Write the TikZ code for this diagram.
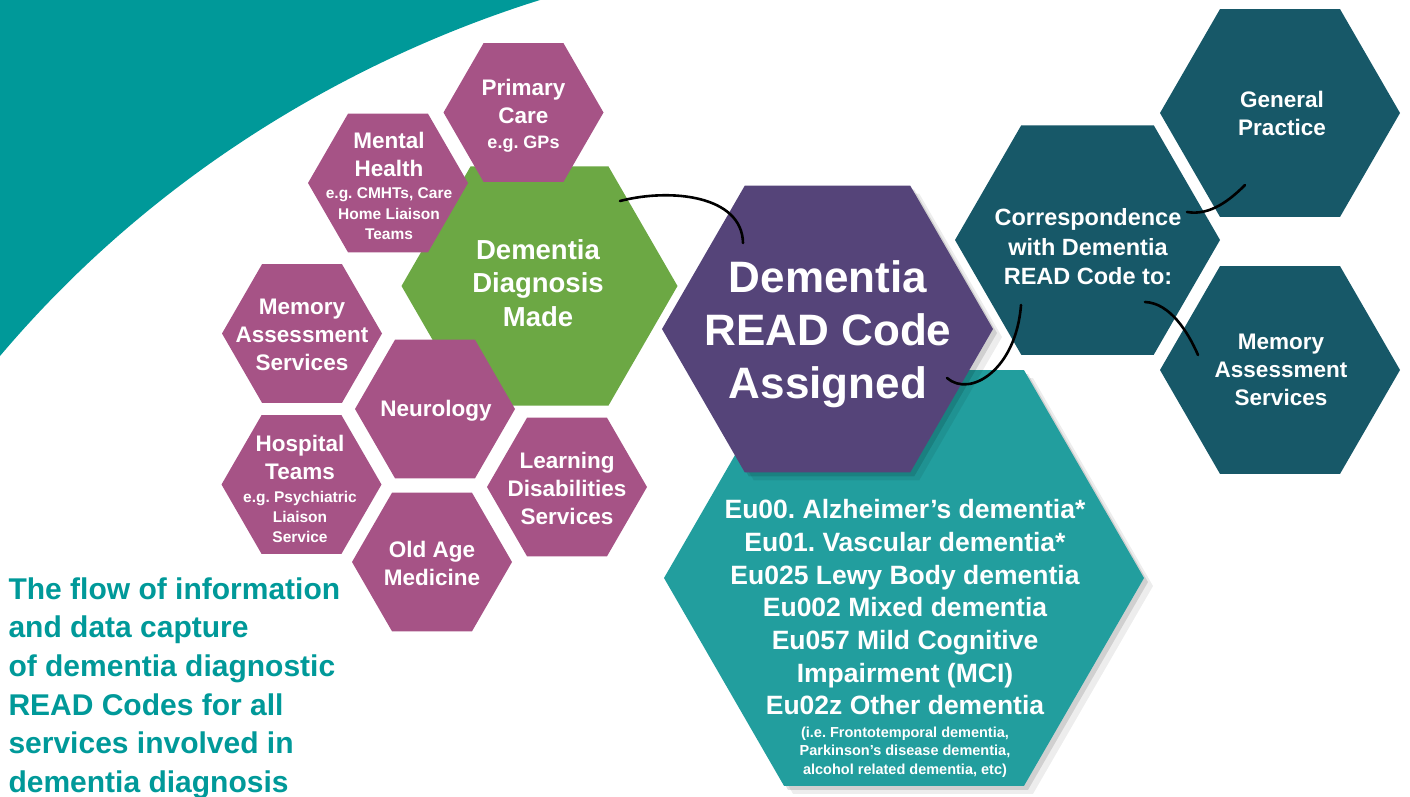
\documentclass[tikz,border=0pt]{standalone}
\usepackage{fontspec}
\setmainfont{Liberation Sans}
\usetikzlibrary{shapes.geometric, shadows}
\frenchspacing

\definecolor{swoosh}{HTML}{009999}
\definecolor{rosehex}{HTML}{A65386}
\definecolor{diaggreen}{HTML}{6CA844}
\definecolor{readpurple}{HTML}{554479}
\definecolor{codeteal}{HTML}{229E9E}
\definecolor{darkteal}{HTML}{175868}

\newcommand{\sizeto}[2]{\fontsize{#1}{#2}\selectfont}
\newcommand{\egline}[1]{{\sizeto{15.5}{20.5}#1}}
\newcommand{\noteline}[1]{{\sizeto{14.5}{18.3}#1}}

\begin{document}
\begin{tikzpicture}[
    x=1pt, y=-1pt,
    hexa/.style={regular polygon, regular polygon sides=6, inner sep=0pt, outer sep=0pt},
    rosebox/.style={hexa, fill=rosehex, minimum size=160pt},
    tealbox/.style={hexa, fill=darkteal, minimum size=240pt},
    softshadow/.style={drop shadow={shadow xshift=4pt, shadow yshift=-4pt, opacity=.12, fill=black},
                       drop shadow={shadow xshift=9pt, shadow yshift=-8pt, opacity=.07, fill=black}},
    hextext/.style={text=white, align=center, font=\bfseries\sizeto{22.5}{28}},
    link/.style={line width=2.6pt, line cap=round, draw=black}
]
\useasboundingbox (0,0) rectangle (1410,796);

% Background swoosh
\fill[swoosh] (0,0) -- (540,0) .. controls (380,50) and (170,155) .. (0,356) -- cycle;

% Diagnosis hexagon and contributing services
\node[hexa, fill=diaggreen, minimum size=276pt] (diag) at (539.5,286) {};
\node[rosebox] (prim) at (523.5,112.5) {};
\node[rosebox] (mental) at (388,183) {};
\node[rosebox] (memL) at (302,333.5) {};
\node[rosebox] (neuro) at (435,409) {};
\node[rosebox] (hosp) at (301.5,484.5) {};
\node[rosebox] (learn) at (567,487) {};
\node[rosebox] (oldage) at (432,562) {};

% READ codes and correspondence
\node[hexa, fill=codeteal, minimum size=480pt, softshadow] (codes) at (904,578) {};
\node[hexa, fill=darkteal, minimum size=265pt] (corr) at (1087.5,240) {};
\node[tealbox] (gp) at (1280,113) {};
\node[tealbox] (memR) at (1280,370) {};
\node[hexa, fill=readpurple, minimum size=331pt, softshadow] (read) at (827.5,329) {};

% Texts
\node[hextext] (primT) at (523.5,116) {Primary\\Care\\[-3pt]{\sizeto{18}{22}e.g. GPs}};
\node[hextext] (mentalT) at (389,186) {Mental\\Health\\[-6pt]\egline{e.g. CMHTs, Care}\\[-7.5pt]\egline{Home Liaison}\\[-7.5pt]\egline{Teams}};
\node[hextext] (memLT) at (302,335) {Memory\\Assessment\\Services};
\node[hextext] (neuroT) at (436,411) {Neurology};
\node[hextext] (hospT) at (300,489) {Hospital\\Teams\\[-5pt]\egline{e.g. Psychiatric}\\[-8pt]\egline{Liaison}\\[-8pt]\egline{Service}};
\node[hextext] (learnT) at (567,488) {Learning\\Disabilities\\Services};
\node[hextext] (oldageT) at (432,563) {Old Age\\Medicine};
\node[hextext, font=\bfseries\sizeto{27.5}{33.5}] (diagT) at (538,283) {Dementia\\Diagnosis\\Made};
\node[hextext, font=\bfseries\sizeto{44}{53}] (readT) at (828,334) {Dementia\\READ Code\\Assigned};
\node[hextext, font=\bfseries\sizeto{23.5}{29.5}] (corrT) at (1088,247) {Correspondence\\with Dementia\\READ Code to:};
\node[hextext] (gpT) at (1282,113) {General\\Practice};
\node[hextext] (memRT) at (1281,370) {Memory\\Assessment\\Services};
\node[hextext, font=\bfseries\sizeto{26.5}{32.7}, anchor=north] (codesT) at (905,496)
  {Eu00. Alzheimer’s dementia*\\Eu01. Vascular dementia*\\Eu025 Lewy Body dementia\\Eu002 Mixed dementia\\Eu057 Mild Cognitive\\Impairment (MCI)\\Eu02z Other dementia\\[-10pt]\noteline{(i.e. Frontotemporal dementia,}\\[-14.4pt]\noteline{Parkinson’s disease dementia,}\\[-14pt]\noteline{alcohol related dementia, etc)}};

\node[anchor=north west, text=swoosh, align=left, font=\bfseries\sizeto{30}{38.6}] (title) at (5,574)
  {The flow of information\\and data capture\\of dementia diagnostic\\READ Codes for all\\services involved in\\dementia diagnosis};

% Connectors
\coordinate (l1a) at ([shift={(80.5,-85)}]diag.center);
\coordinate (l1b) at ([shift={(-84.5,-86)}]read.center);
\coordinate (l2a) at ([shift={(119.5,49)}]read.center);
\coordinate (l2b) at ([shift={(-66.5,65)}]corr.center);
\coordinate (l3a) at ([shift={(99.5,-28)}]corr.center);
\coordinate (l3b) at ([shift={(-35,72)}]gp.center);
\coordinate (l4a) at ([shift={(57.5,62)}]corr.center);
\coordinate (l4b) at ([shift={(-82,-15)}]memR.center);

\draw[link] (l1a) .. controls +(50,-13) and +(-1,-48) .. (l1b);
\draw[link] (l2a) .. controls +(23,20) and +(-5,65) .. (l2b);
\draw[link] (l3a) .. controls +(23,4) and +(-15,15) .. (l3b);
\draw[link] (l4a) .. controls +(25,1) and +(-10,-23) .. (l4b);

\end{tikzpicture}
\end{document}
